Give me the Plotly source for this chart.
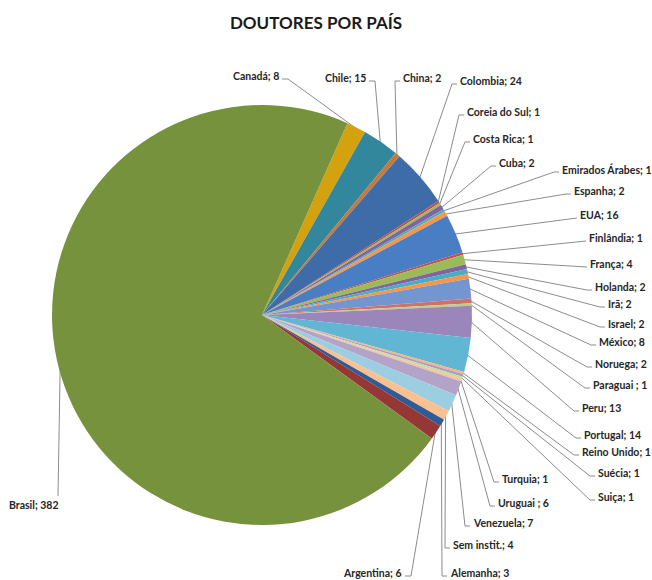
import math
import plotly.graph_objects as go

# ---- data (clockwise order, starting at Canadá) ----
countries = ["Canadá", "Chile", "China", "Colombia", "Coreia do Sul", "Costa Rica", "Cuba",
             "Emirados Árabes", "Espanha", "EUA", "Finlândia", "França", "Holanda", "Irã",
             "Israel", "México", "Noruega", "Paraguai ", "Peru", "Portugal", "Reino Unido",
             "Suécia", "Suiça", "Turquia", "Uruguai ", "Venezuela", "Sem instit.", "Alemanha",
             "Argentina", "Brasil"]
doutores = [8, 15, 2, 24, 1, 1, 2, 1, 2, 16, 1, 4, 2, 2, 2, 8, 2, 1, 13, 14, 1, 1, 1, 1, 6, 7, 4, 3, 6, 382]

# ---- styles ----
slice_colors = ["#D4A20F", "#33879C", "#C5793A", "#3E6CA8", "#C0504D", "#9BBB59", "#8064A2",
                "#4BACC6", "#F79646", "#4A7EC4", "#C0504D", "#9BBB59", "#8064A2", "#4BACC6",
                "#F79646", "#7396D1", "#D0706D", "#B8CE8A", "#9A86BB", "#60B6D3", "#F9B47C",
                "#A99BC9", "#C9DA9F", "#F5C49C", "#B3A3C8", "#9CCDE0", "#FAC090", "#2F5C97",
                "#953735", "#76923C"]

W, H = 652, 580
CX, CY, R = 262, 315, 210
ROT = 24  # start angle of first slice (clockwise from 12 o'clock)

# label layout: (text edge x, text center y, side)  side: 'r' text to right of line, 'l' to left, 'b' below line end
label_pos = {
    "Canadá": (281, 76, "l"), "Chile": (368, 78, "l"), "China": (401, 78, "r"),
    "Colombia": (458, 81, "r"), "Coreia do Sul": (465, 112, "r"), "Costa Rica": (471, 139, "r"),
    "Cuba": (497, 163, "r"), "Emirados Árabes": (560, 169, "r"), "Espanha": (572, 191, "r"),
    "EUA": (578, 215, "r"), "Finlândia": (587, 238, "r"), "França": (588, 264, "r"),
    "Holanda": (593, 287, "r"), "Irã": (606, 304, "r"), "Israel": (606, 324, "r"),
    "México": (597, 342, "r"), "Noruega": (593, 364, "r"), "Paraguai ": (591, 385, "r"),
    "Peru": (580, 408, "r"), "Portugal": (582, 435, "r"), "Reino Unido": (580, 452, "r"),
    "Suécia": (596, 473, "r"), "Suiça": (596, 497, "r"), "Turquia": (500, 479, "r"),
    "Uruguai ": (496, 503, "r"), "Venezuela": (471, 523, "r"), "Sem instit.": (451, 545, "r"),
    "Alemanha": (448, 573, "r"), "Argentina": (404, 573, "l"), "Brasil": (61, 505, "b"),
}

fig = go.Figure()

# pie
fig.add_trace(go.Pie(
    labels=countries, values=doutores, sort=False, direction="clockwise", rotation=ROT,
    marker=dict(colors=slice_colors, line=dict(width=0)),
    textinfo="none", hoverinfo="label+value", showlegend=False,
    domain=dict(x=[(CX - R) / W, (CX + R) / W], y=[(H - CY - R) / H, (H - CY + R) / H]),
))

# leader lines
total = sum(doutores)
lx, ly = [], []
annotations = []
cum = 0
for name, v in zip(countries, doutores):
    mid = math.radians(ROT + (cum + v / 2) / total * 360)
    cum += v
    px = CX + (R - 1) * math.sin(mid)
    py = CY - (R - 1) * math.cos(mid)
    tx, ty, side = label_pos[name]
    if side == "r":
        ex, ey = tx - 6, ty + 3
        lx += [px, ex, tx - 1, None]
        ly += [py, ey, ey, None]
        xa = "left"
    elif side == "l":
        ex, ey = tx + 7, ty + 3
        lx += [px, ex, tx + 1, None]
        ly += [py, ey, ey, None]
        xa = "right"
    else:
        ex, ey = tx - 3, ty - 9
        lx += [px, ex, None]
        ly += [py, ey, None]
        xa = "right"
    annotations.append(dict(
        x=tx, y=ty, xref="x", yref="y", xanchor=xa, yanchor="middle",
        text="<b>%s; %d</b>" % (name, v), showarrow=False,
        font=dict(family="Lato, Carlito, sans-serif", size=10.5, color="#262626"),
    ))

fig.add_trace(go.Scatter(x=lx, y=ly, mode="lines", line=dict(color="#8C8C8C", width=1),
                         hoverinfo="skip", showlegend=False))

fig.update_layout(
    width=W, height=H, margin=dict(l=0, r=0, t=0, b=0),
    paper_bgcolor="white", plot_bgcolor="rgba(0,0,0,0)",
    xaxis=dict(range=[0, W], visible=False, fixedrange=True),
    yaxis=dict(range=[H, 0], visible=False, fixedrange=True),
    title=dict(text="<b>DOUTORES POR PAÍS</b>", x=316 / W, y=1 - 23 / H, xanchor="center", yanchor="middle",
               font=dict(family="Lato, Carlito, sans-serif", size=17, color="#1A1A1A")),
    annotations=annotations,
)

fig.write_html("out.html", config={"displayModeBar": False},
               post_script="document.body.style.margin='0';document.body.style.overflow='hidden';")
